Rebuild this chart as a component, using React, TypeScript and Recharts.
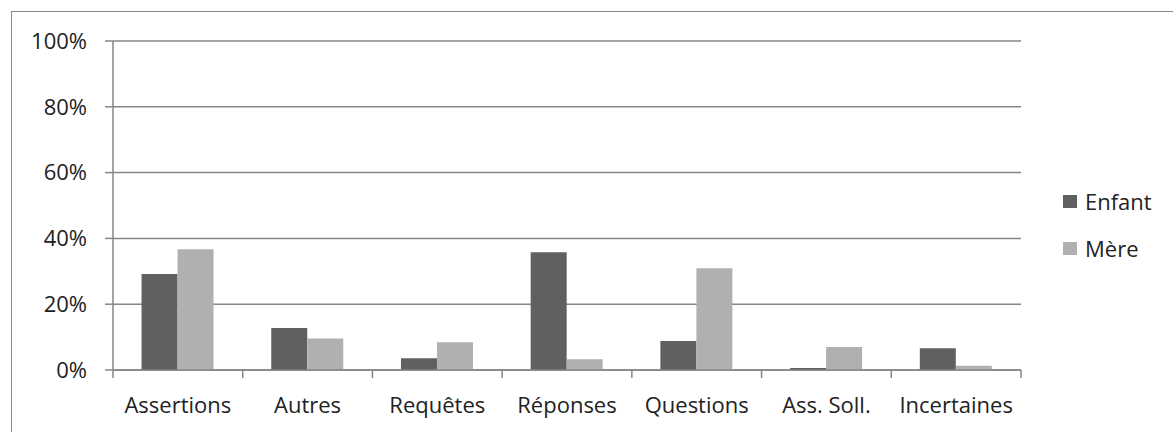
import React from "react";
import { BarChart, Bar, XAxis, YAxis, CartesianGrid } from "recharts";

const categories = ["Assertions", "Autres", "Requêtes", "Réponses", "Questions", "Ass. Soll.", "Incertaines"];
const enfant = [29.2, 12.8, 3.6, 35.8, 8.8, 0.6, 6.6];
const mere = [36.7, 9.6, 8.4, 3.3, 30.9, 7.0, 1.3];
const yTicks = [0, 20, 40, 60, 80, 100];

const data = categories.map((name, i) => ({ name, enfant: enfant[i], mere: mere[i] }));

const FONT = "'Open Sans', sans-serif";
const FS = 22;
const AXIS = "#868686";
const PLOT_LEFT = 113;
const PLOT_RIGHT = 1021;
const BAND = (PLOT_RIGHT - PLOT_LEFT) / categories.length;

function CategoryTick(props: any) {
  const { x, y, payload, index } = props;
  const left = x - BAND / 2;
  return (
    <g>
      <line x1={left} y1={y - 8} x2={left} y2={y} stroke={AXIS} strokeWidth={1.5} />
      {index === categories.length - 1 && (
        <line x1={left + BAND} y1={y - 8} x2={left + BAND} y2={y} stroke={AXIS} strokeWidth={1.5} />
      )}
      <text x={x} y={y + 35} textAnchor="middle" fill="#222" fontSize={FS} fontFamily={FONT}>
        {payload.value}
      </text>
    </g>
  );
}

const legendItems = [
  { label: "Enfant", color: "#606060" },
  { label: "Mère", color: "#b0b0b0" },
];

export default function App() {
  return (
    <div style={{ position: "absolute", left: 0, top: 0, width: 1173, height: 432, background: "#fff" }}>
      <div
        style={{
          position: "absolute",
          left: 11,
          top: 11,
          width: 1200,
          height: 500,
          borderLeft: "1px solid #8a8a8a",
          borderTop: "1px solid #8a8a8a",
        }}
      />
      <BarChart
        width={1173}
        height={432}
        data={data}
        margin={{ top: 41, right: 1173 - PLOT_RIGHT, left: 0, bottom: 0 }}
        barCategoryGap="22%"
        barGap={0}
      >
        <CartesianGrid vertical={false} stroke={AXIS} strokeWidth={1.5} />
        <XAxis
          dataKey="name"
          height={62}
          axisLine={{ stroke: AXIS, strokeWidth: 1.5 }}
          tickLine={false}
          interval={0}
          tick={<CategoryTick />}
        />
        <YAxis
          width={PLOT_LEFT}
          domain={[0, 100]}
          ticks={yTicks}
          tickFormatter={(v: number) => `${v}%`}
          axisLine={{ stroke: AXIS, strokeWidth: 1.5 }}
          tickLine={{ stroke: AXIS, strokeWidth: 1.5 }}
          tickSize={8}
          tickMargin={18}
          tick={{ fill: "#222", fontSize: FS, fontFamily: FONT }}
        />
        <Bar dataKey="enfant" fill="#606060" isAnimationActive={false} />
        <Bar dataKey="mere" fill="#b0b0b0" isAnimationActive={false} />
      </BarChart>
      {legendItems.map((item, i) => (
        <div
          key={item.label}
          style={{
            position: "absolute",
            left: 1063,
            top: 186 + i * 47,
            height: 30,
            display: "flex",
            alignItems: "center",
            fontFamily: FONT,
            fontSize: FS,
            color: "#222",
          }}
        >
          <span style={{ display: "inline-block", width: 14, height: 13, background: item.color, marginRight: 8 }} />
          {item.label}
        </div>
      ))}
    </div>
  );
}
